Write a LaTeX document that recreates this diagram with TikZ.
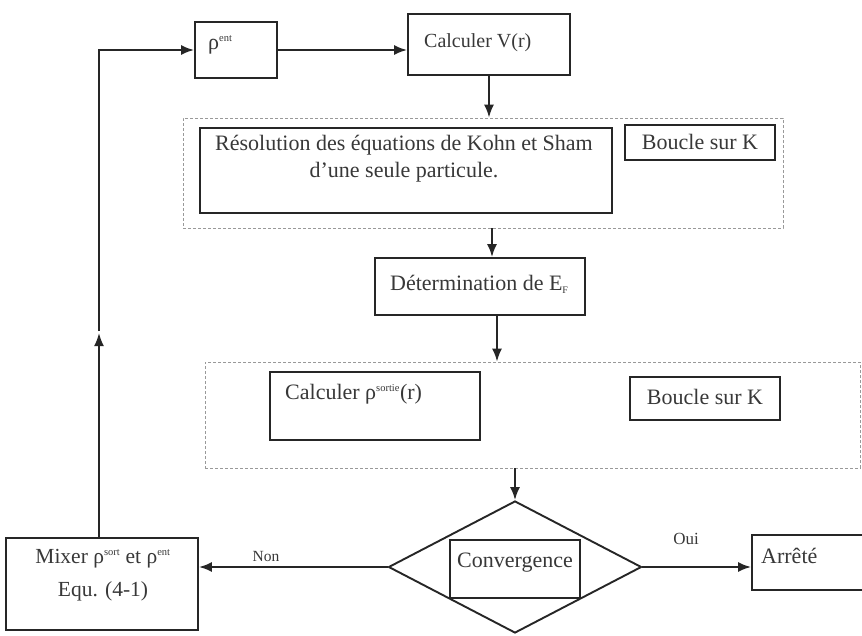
\documentclass[tikz,border=0pt]{standalone}
\usepackage{fontspec}
\setmainfont{Liberation Serif}
\usetikzlibrary{arrows.meta,shapes.geometric,calc}
\definecolor{ink}{gray}{0.22}
\newcommand{\supx}[1]{\textsuperscript{\fontsize{10.5}{10.5}\selectfont #1}}
\tikzset{
  box/.style={draw=black!85, line width=1.9pt, rectangle, inner sep=0pt},
  dbox/.style={draw=black!40, line width=0.8pt, dash pattern=on 3pt off 2pt, rectangle, inner sep=0pt},
  txt/.style={text=ink, font=\fontsize{22}{27}\selectfont, inner sep=0pt},
  arr/.style={draw=black!85, line width=1.9pt, -{Latex[length=13pt,width=10pt]}},
  ln/.style={draw=black!85, line width=1.9pt}
}
\begin{document}
\begin{tikzpicture}[x=1pt,y=-1pt]
\useasboundingbox (0,0) rectangle (862,635);
\fill[white] (0,0) rectangle (862,635);
% boxes
\node[box, minimum width=82pt, minimum height=56pt] (rho) at (236,50) {};
\node[txt, anchor=west] (rhot) at (208,45) {ρ\supx{ent}};
\node[box, minimum width=162pt, minimum height=61pt] (calcV) at (489,44.5) {};
\node[txt, anchor=west, font=\fontsize{20}{23}\selectfont] (calcVt) at (424,43) {Calculer V(r)};
\node[dbox, minimum width=600pt, minimum height=110pt] (dash1) at (483,173) {};
\node[box, minimum width=412pt, minimum height=85pt] (res) at (406,170.5) {};
\node[txt, align=center] (rest) at (404,159) {Résolution des équations de Kohn et Sham\\d’une seule particule.};
\node[box, minimum width=150pt, minimum height=35pt] (b1) at (700,142.5) {};
\node[txt] (b1t) at (700,142) {Boucle sur K};
\node[box, minimum width=210pt, minimum height=57pt] (det) at (480,286.5) {};
\node[txt, anchor=west] (dett) at (390,284) {Détermination de E\textsubscript{\fontsize{10}{10}\selectfont F}};
\node[dbox, minimum width=655pt, minimum height=106pt] (dash2) at (532.5,415) {};
\node[box, minimum width=210pt, minimum height=68pt] (crho) at (375,406) {};
\node[txt, anchor=west] (crhot) at (285,394) {Calculer ρ\supx{sortie}(r)};
\node[box, minimum width=150pt, minimum height=43pt] (b2) at (705,398.5) {};
\node[txt] (b2t) at (705,397) {Boucle sur K};
\node[draw=black!85, line width=1.9pt, diamond, minimum width=253pt, minimum height=132pt, inner sep=0pt] (dia) at (515,567) {};
\node[box, minimum width=130pt, minimum height=58pt] (conv) at (515,569) {};
\node[txt] (convt) at (515,563) {Convergence};
\node[box, minimum width=118pt, minimum height=55pt] (arr) at (811,562.5) {};
\node[txt, anchor=west] (arrt) at (761,556) {Arrêté};
\node[box, minimum width=192pt, minimum height=92pt] (mix) at (102,584) {};
\node[txt, align=center, font=\fontsize{21.5}{33}\selectfont] (mixt) at (103,575) {Mixer ρ\supx{sort} et ρ\supx{ent}\\Equ. (4-1)};
\node[txt, font=\fontsize{15.5}{17}\selectfont] (non) at (266,556) {Non};
\node[txt, font=\fontsize{17}{19}\selectfont] (oui) at (686,539) {Oui};
% connectors
\draw[arr] (rho.east) -- (rho.east -| calcV.west);
\draw[arr] (calcV.south) -- (calcV.south |- dash1.north);
\draw[arr] (dash1.south -| 492,0) -- (det.north -| 492,0);
\draw[arr] (det.south -| 497,0) -- (dash2.north -| 497,0);
\draw[arr] (dash2.south -| dia.north) -- (dia.north);
\draw[arr] (dia.east) -- (dia.east -| arr.west);
\draw[arr] (dia.west) -- (dia.west -| mix.east);
\draw[arr] (mix.north -| 99,0) -- (99,333);
\draw[arr] (99,331) -- (rho.west -| 99,0) -- (rho.west);
\end{tikzpicture}
\end{document}
